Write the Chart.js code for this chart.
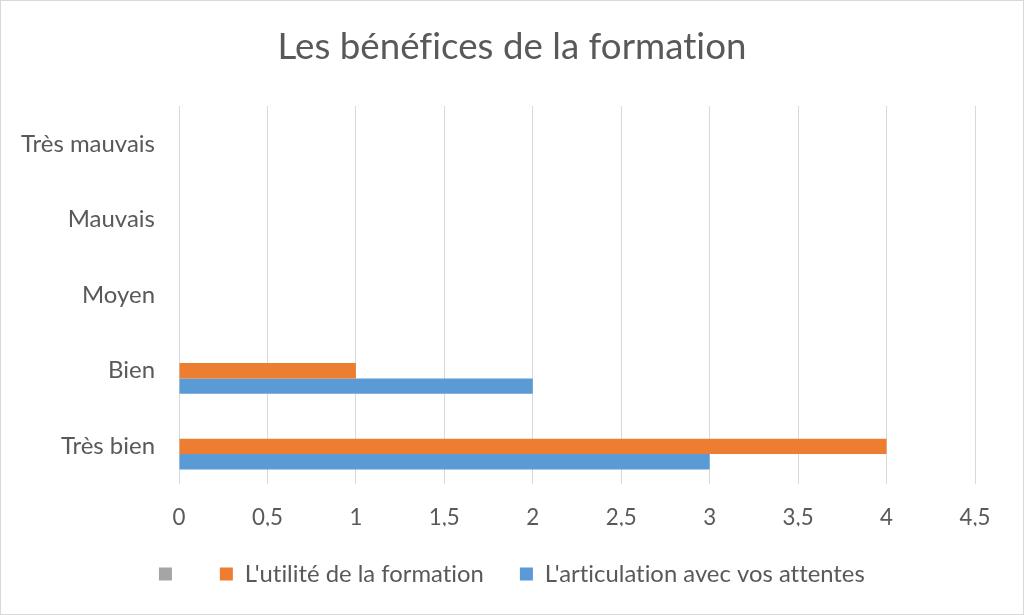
<!DOCTYPE html>
<html><head><meta charset="utf-8">
<script src="https://cdn.jsdelivr.net/npm/chart.js@4"></script>
<style>
html,body{margin:0;padding:0;background:#fff;}
#wrap{position:absolute;left:0;top:0;width:1024px;height:615px;box-sizing:border-box;border:1px solid #d9d9d9;background:#fff;}
canvas{display:block;}
</style></head><body>
<div id="wrap"><canvas id="c" width="1022" height="613"></canvas></div>
<script>
// ---- data ----
const categories = ['Très mauvais', 'Mauvais', 'Moyen', 'Bien', 'Très bien'];
const seriesNames = ['', "L'utilité de la formation", "L'articulation avec vos attentes"];
const seriesBlank = [null, null, null, null, null];
const seriesUtilite = [null, null, null, 1, 4];
const seriesArticulation = [null, null, null, 2, 3];
const xTickLabels = ['0', '0,5', '1', '1,5', '2', '2,5', '3', '3,5', '4', '4,5'];
const chartTitle = 'Les bénéfices de la formation';

// ---- styling helpers ----
const FONT = 'Lato';
const TEXT = '#595959';
const SPACING = '0.01px'; // non-zero spacing turns off the "ti" ligature
const mctx = document.createElement('canvas').getContext('2d');
if ('letterSpacing' in mctx) mctx.letterSpacing = SPACING;
function fit(text, target) {
  mctx.font = '100px ' + FONT;
  return 100 * target / mctx.measureText(text).width;
}
const titleSize = fit(chartTitle, 469);
const yTickSize = fit('Très mauvais', 134);
const xTickSize = fit('4,5', 31);
const legendSize = fit("L'utilité de la formation", 239);

const titlePadTop = 46 - 0.6 * titleSize;
const titlePadBottom = 105 - titlePadTop - 1.2 * titleSize;

const noLigatures = {
  id: 'noLigatures',
  beforeInit(chart) { if ('letterSpacing' in chart.ctx) chart.ctx.letterSpacing = SPACING; },
  beforeDraw(chart) { if ('letterSpacing' in chart.ctx) chart.ctx.letterSpacing = SPACING; }
};

new Chart(document.getElementById('c'), {
  type: 'bar',
  plugins: [noLigatures],
  data: {
    labels: categories,
    datasets: [
      { label: seriesNames[0], data: seriesBlank, backgroundColor: '#A5A5A5' },
      { label: seriesNames[1], data: seriesUtilite, backgroundColor: '#ED7D31' },
      { label: seriesNames[2], data: seriesArticulation, backgroundColor: '#5B9BD5' }
    ]
  },
  options: {
    indexAxis: 'y',
    responsive: false,
    animation: false,
    categoryPercentage: 0.612,
    barPercentage: 1,
    layout: { padding: { left: 0, right: 0, top: 0, bottom: 18 } },
    plugins: {
      title: {
        display: true,
        text: chartTitle,
        color: TEXT,
        font: { family: FONT, size: titleSize, weight: 'normal' },
        padding: { top: titlePadTop, bottom: titlePadBottom }
      },
      legend: {
        position: 'bottom',
        labels: {
          color: TEXT,
          font: { family: FONT, size: legendSize },
          boxWidth: 13,
          boxHeight: 13,
          padding: 36
        }
      },
      tooltip: { enabled: false }
    },
    scales: {
      x: {
        min: 0,
        max: 4.5,
        ticks: {
          stepSize: 0.5,
          color: TEXT,
          font: { family: FONT, size: xTickSize },
          padding: 20,
          callback: (v, i) => xTickLabels[i]
        },
        grid: { color: '#D9D9D9', lineWidth: 1, drawTicks: false },
        border: { display: false },
        afterFit: s => { s.height = 42; }
      },
      y: {
        ticks: {
          color: TEXT,
          font: { family: FONT, size: yTickSize },
          padding: 24
        },
        grid: { display: false, drawTicks: false },
        border: { display: false },
        afterFit: s => { s.width = 178; }
      },
      yRight: {
        position: 'right',
        display: true,
        ticks: { display: false },
        grid: { display: false, drawTicks: false },
        border: { display: false },
        afterFit: s => { s.width = 48; }
      }
    }
  }
});
</script>
</body></html>
